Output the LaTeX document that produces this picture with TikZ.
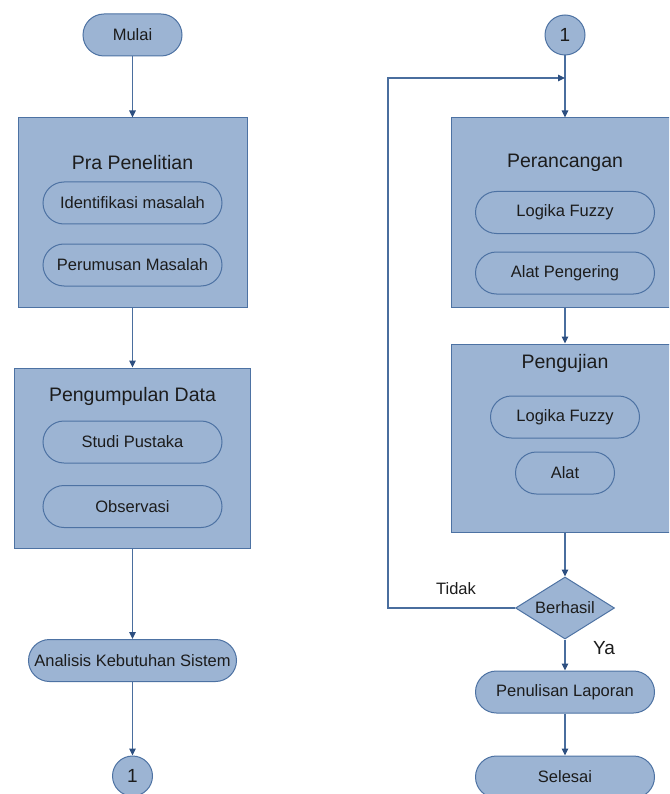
\documentclass[tikz,border=0pt]{standalone}
\usepackage{fontspec}
\setmainfont{Liberation Sans}
\usetikzlibrary{shapes.geometric,arrows.meta,calc}
\definecolor{fillblue}{HTML}{9CB4D3}
\definecolor{edgeblue}{HTML}{4D72A3}
\definecolor{arrowblue}{HTML}{4A6E9E}
\definecolor{headblue}{HTML}{2D4F80}
\definecolor{txt}{HTML}{1C1C1C}
\tikzset{
  base/.style={draw=edgeblue, fill=fillblue, line width=1pt, text=txt, inner sep=0pt},
  bigbox/.style={base, rectangle},
  pill/.style={base, rectangle, rounded corners=21pt, minimum height=42pt, font=\fontsize{16.5}{18}\selectfont},
  conn/.style={base, circle, minimum size=40pt, font=\fontsize{19}{20}\selectfont},
  decision/.style={base, diamond, aspect=1.6, minimum width=99pt, minimum height=62pt, font=\fontsize{16.5}{18}\selectfont},
  title/.style={text=txt, font=\fontsize{19.5}{21}\selectfont, inner sep=0pt},
  lbl/.style={text=txt, inner sep=0pt},
  flow/.style={draw=arrowblue, line width=1.1pt, -{Triangle[length=7pt,width=6.5pt,fill=headblue,color=headblue]}},
  plain/.style={draw=arrowblue, line width=1.1pt}
}
\begin{document}
\begin{tikzpicture}[x=1pt,y=-1pt]
\useasboundingbox (0,0) rectangle (669,794);
\clip (0,0) rectangle (669,794);
% left column
\node[pill, minimum width=99pt] (mulai) at (132.5,35) {Mulai};
\node[bigbox, minimum width=229pt, minimum height=189pt] (pra) at (132.5,212.5) {};
\node[title] (pratitle) at (132.5,163) {Pra Penelitian};
\node[pill, minimum width=179pt] (ident) at (132.5,203) {Identifikasi masalah};
\node[pill, minimum width=179pt] (perum) at (132.5,265) {Perumusan Masalah};
\node[bigbox, minimum width=236pt, minimum height=180pt] (pengdata) at (132.5,458) {};
\node[title] (pengtitle) at (132.5,396) {Pengumpulan Data};
\node[pill, minimum width=179pt] (studi) at (132.5,442) {Studi Pustaka};
\node[pill, minimum width=179pt] (obs) at (132.5,506.5) {Observasi};
\node[pill, minimum width=208pt] (anal) at (132.5,660.5) {Analisis Kebutuhan Sistem};
\node[conn] (c1a) at (132.5,776) {1};
% right column
\node[conn] (c1b) at (565,35) {1};
\node[bigbox, minimum width=228pt, minimum height=189pt] (peranc) at (565,212.5) {};
\node[title] (peranctitle) at (565,163) {Perancangan};
\node[pill, minimum width=179pt] (fuzzy1) at (565,212.5) {Logika Fuzzy};
\node[pill, minimum width=179pt] (alatp) at (565,273) {Alat Pengering};
\node[bigbox, minimum width=228pt, minimum height=188pt] (uji) at (565,438) {};
\node[title] (ujititle) at (565,363) {Pengujian};
\node[pill, minimum width=149pt] (fuzzy2) at (565,417) {Logika Fuzzy};
\node[pill, minimum width=99pt] (alat) at (565,473) {Alat};
\node[decision] (berhasil) at (565,608) {Berhasil};
\node[lbl, font=\fontsize{16.5}{18}\selectfont] (tidak) at (456,589) {Tidak};
\node[lbl, font=\fontsize{19}{20}\selectfont] (ya) at (604,648) {Ya};
\node[pill, minimum width=179pt] (tulis) at (565,692) {Penulisan Laporan};
\node[pill, minimum width=179pt] (selesai) at (565,777) {Selesai};
\coordinate (loopleft) at (388,78);
\coordinate (loopin) at (565,78);
% connectors
\draw[flow] (mulai) -- (pra);
\draw[flow] (pra) -- (pengdata);
\draw[flow] (pengdata) -- (anal);
\draw[flow] (anal) -- (c1a);
\draw[flow] (c1b) -- (peranc);
\draw[flow] (peranc) -- (uji);
\draw[flow] (uji) -- (berhasil);
\draw[flow] (berhasil) -- (tulis);
\draw[flow] (tulis) -- (selesai);
\draw[flow] (berhasil.west) -| (loopleft) -- (loopin);
\end{tikzpicture}
\end{document}
